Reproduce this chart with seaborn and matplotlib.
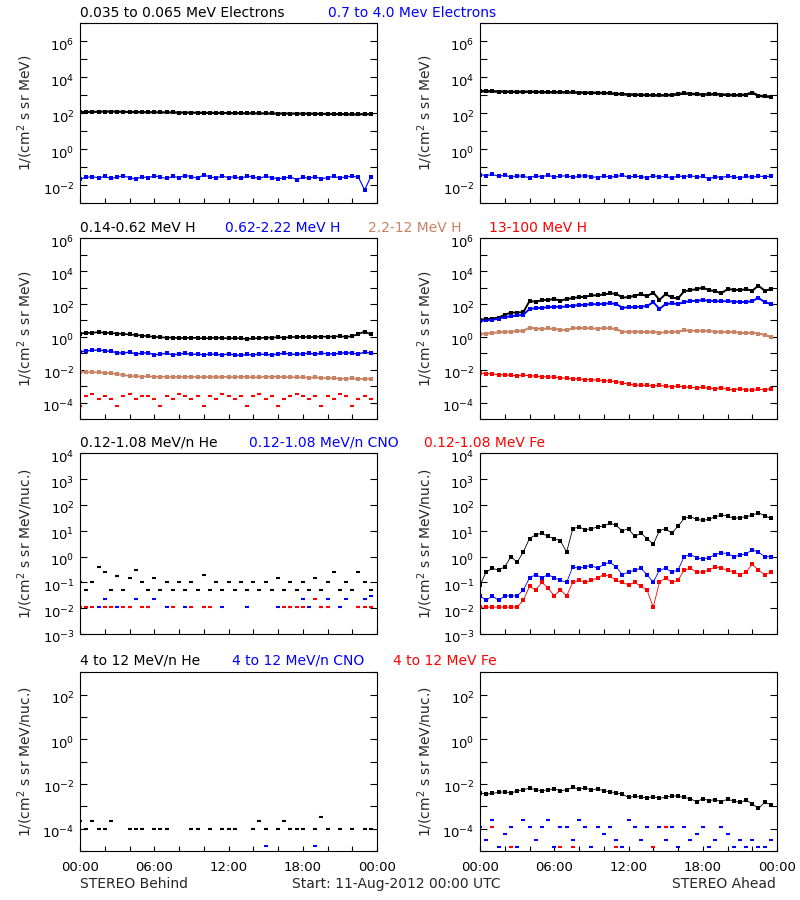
import numpy as np
import pandas as pd
import matplotlib
matplotlib.use("Agg")
import matplotlib.pyplot as plt
import matplotlib.transforms as mtransforms
import seaborn as sns
from matplotlib.ticker import FixedLocator, FixedFormatter, NullFormatter

nan = np.nan
hours = np.arange(48) * 0.5  # 30-min sampling, 00:00 .. 23:30

# ---------------- Row 1: electrons ----------------
e_lo_B = [115, 118, 120, 122, 124, 125, 122, 120, 118, 117, 116, 115, 114, 113, 112, 111,
          110, 109, 108, 107, 106, 105, 104, 104, 103, 102, 101, 100, 100, 99, 99, 98,
          97, 97, 96, 96, 95, 95, 94, 93, 92, 91, 90, 89, 87, 88, 89, 90]
e_hi_B = [0.022, 0.028, 0.030, 0.026, 0.031, 0.024, 0.029, 0.033, 0.027, 0.022, 0.030, 0.026,
          0.034, 0.028, 0.024, 0.031, 0.027, 0.035, 0.030, 0.025, 0.038, 0.029, 0.026, 0.032,
          0.027, 0.030, 0.024, 0.033, 0.028, 0.025, 0.031, 0.027, 0.023, 0.026, 0.029, 0.021,
          0.028, 0.025, 0.030, 0.023, 0.027, 0.031, 0.026, 0.029, 0.032, 0.028, 0.0055, 0.030]
e_lo_A = [1700, 1680, 1650, 1620, 1600, 1560, 1550, 1560, 1580, 1540, 1500, 1480, 1470, 1460,
          1450, 1440, 1420, 1400, 1380, 1360, 1340, 1300, 1200, 1150, 1100, 1080, 1050, 1030,
          1000, 990, 1000, 1050, 1150, 1300, 1200, 1150, 1100, 1120, 1150, 1100, 1050, 1020,
          1000, 1100, 1400, 950, 870, 830]
e_hi_A = [0.038, 0.035, 0.040, 0.032, 0.036, 0.029, 0.034, 0.031, 0.027, 0.033, 0.030, 0.036,
          0.029, 0.032, 0.034, 0.028, 0.031, 0.035, 0.030, 0.027, 0.033, 0.029, 0.031, 0.036,
          0.028, 0.032, 0.030, 0.027, 0.034, 0.029, 0.031, 0.026, 0.033, 0.030, 0.035, 0.028,
          0.031, 0.023, 0.030, 0.027, 0.032, 0.029, 0.026, 0.031, 0.028, 0.033, 0.030, 0.032]

# ---------------- Row 2: protons ----------------
h1_B = [1.6, 1.7, 1.8, 1.9, 1.8, 1.7, 1.6, 1.5, 1.4, 1.3, 1.2, 1.1, 1.0, 0.95, 0.9, 0.9,
        0.85, 0.85, 0.9, 0.85, 0.8, 0.85, 0.9, 0.85, 0.8, 0.85, 0.8, 0.75, 0.8, 0.85, 0.9, 0.9,
        0.95, 0.9, 0.95, 1.0, 1.0, 0.95, 1.0, 1.05, 1.0, 1.05, 1.1, 1.0, 1.1, 1.5, 2.1, 1.4]
h2_B = [0.12, 0.14, 0.15, 0.16, 0.14, 0.13, 0.11, 0.10, 0.12, 0.09, 0.10, 0.11, 0.08, 0.09,
        0.10, 0.08, 0.09, 0.10, 0.085, 0.09, 0.08, 0.09, 0.085, 0.08, 0.09, 0.08, 0.075, 0.085,
        0.08, 0.09, 0.085, 0.08, 0.09, 0.10, 0.09, 0.085, 0.095, 0.10, 0.09, 0.10, 0.095, 0.09,
        0.10, 0.11, 0.10, 0.09, 0.12, 0.10]
h3_B = [0.0075, 0.0072, 0.0070, 0.0068, 0.0065, 0.0060, 0.0055, 0.0048, 0.0042, 0.0040, 0.0038,
        0.0040, 0.0037, 0.0036, 0.0038, 0.0035, 0.0037, 0.0036, 0.0038, 0.0035, 0.0036, 0.0037,
        0.0035, 0.0036, 0.0037, 0.0035, 0.0038, 0.0036, 0.0034, 0.0035, 0.0037, 0.0036, 0.0038,
        0.0035, 0.0036, 0.0034, 0.0035, 0.0033, 0.0034, 0.0032, 0.0030, 0.0031, 0.0029, 0.0028,
        0.0030, 0.0027, 0.0028, 0.0029]
h4_B = [6e-5, 2.5e-4, 3.3e-4, 1.7e-4, 2.5e-4, 1.7e-4, 6e-5, 2.5e-4, 3.3e-4, 1.7e-4, 2.5e-4, 2.5e-4,
        1.7e-4, 6e-5, 2.5e-4, 1.7e-4, 3.3e-4, 2.5e-4, 1.7e-4, 2.5e-4, 6e-5, 2.5e-4, 1.7e-4, 3.3e-4,
        2.5e-4, 1.7e-4, 2.5e-4, 6e-5, 2.5e-4, 3.3e-4, 1.7e-4, 2.5e-4, 6e-5, 1.7e-4, 2.5e-4, 3.3e-4,
        2.5e-4, 1.7e-4, 2.5e-4, 6e-5, 2.5e-4, 1.7e-4, 3.3e-4, 2.5e-4, 6e-5, 1.7e-4, 2.5e-4, 1.7e-4]
h1_A = [11, 12, 13, 15, 22, 30, 30, 32, 150, 140, 170, 180, 200, 160, 200, 230, 260, 280, 330,
        340, 380, 440, 420, 250, 260, 320, 400, 300, 500, 180, 400, 250, 220, 600, 700, 800, 1000,
        700, 600, 450, 800, 750, 700, 800, 650, 1300, 650, 800]
h2_A = [9.5, 10, 11, 13, 16, 18, 20, 22, 50, 55, 60, 62, 70, 65, 72, 80, 85, 90, 100, 95, 105,
        110, 100, 60, 62, 65, 70, 75, 130, 50, 100, 110, 100, 130, 150, 160, 170, 160, 150, 145,
        150, 140, 135, 130, 150, 240, 130, 100]
h3_A = [1.5, 1.6, 1.7, 1.9, 2.0, 2.1, 2.2, 2.3, 3.7, 3.2, 3.0, 3.3, 3.0, 2.8, 2.5, 3.3, 3.5, 3.4,
        3.3, 3.2, 3.4, 3.3, 3.0, 2.1, 2.0, 2.1, 2.0, 1.9, 2.0, 1.8, 1.9, 2.0, 2.1, 2.5, 2.4, 2.3,
        2.4, 2.2, 2.1, 2.0, 1.9, 2.0, 1.8, 1.7, 1.8, 1.6, 1.3, 1.0]
h4_A = [6.3e-3, 5.8e-3, 5.5e-3, 5.0e-3, 4.8e-3, 4.5e-3, 4.3e-3, 4.6e-3, 4.4e-3, 4.0e-3, 3.8e-3,
        3.6e-3, 3.6e-3, 3.2e-3, 3.0e-3, 2.8e-3, 2.7e-3, 2.5e-3, 2.5e-3, 2.3e-3, 2.2e-3, 2.0e-3,
        1.9e-3, 1.6e-3, 1.3e-3, 1.2e-3, 1.1e-3, 1.15e-3, 1.05e-3, 1.1e-3, 1.0e-3, 0.95e-3, 1.0e-3,
        0.9e-3, 0.85e-3, 0.8e-3, 0.85e-3, 0.75e-3, 0.7e-3, 0.8e-3, 0.65e-3, 0.6e-3, 0.7e-3,
        0.6e-3, 0.55e-3, 0.65e-3, 0.6e-3, 0.7e-3]

# ---------------- Row 3: low-energy ions ----------------
he_B = [0.1, 0.05, 0.1, 0.4, 0.25, 0.05, 0.18, 0.05, 0.15, 0.3, 0.1, 0.05, 0.15, 0.05, 0.1, 0.05,
        0.1, 0.05, 0.1, 0.05, 0.2, 0.05, 0.1, 0.05, 0.1, 0.05, 0.1, 0.05, 0.1, 0.05, 0.1, 0.05,
        0.15, 0.05, 0.1, 0.05, 0.1, 0.05, 0.15, 0.05, 0.1, 0.25, 0.05, 0.1, 0.05, 0.25, 0.1, 0.05]
cno_B = [nan, 0.011, nan, 0.011, 0.022, nan, 0.011, nan, 0.011, 0.022, nan, 0.011, 0.022, nan,
         0.011, nan, nan, 0.011, nan, nan, 0.011, nan, nan, 0.011, nan, nan, nan, 0.011, nan, nan,
         nan, nan, 0.011, nan, 0.011, nan, 0.022, 0.011, nan, 0.011, 0.022, nan, 0.011, 0.022, nan,
         0.011, 0.022, 0.03]
fe_B = [0.011, 0.011, 0.011, nan, 0.011, 0.011, nan, 0.011, 0.011, nan, 0.011, 0.011, nan, nan,
        nan, 0.011, nan, nan, 0.011, nan, 0.011, 0.011, nan, nan, nan, nan, nan, nan, nan, nan,
        nan, nan, nan, 0.011, 0.011, 0.011, 0.011, nan, 0.022, 0.011, 0.011, nan, nan, nan, nan,
        0.011, 0.011, 0.011]
he_A = [0.08, 0.25, 0.35, 0.3, 0.4, 1.0, 0.6, 1.5, 5, 7, 8, 6, 5, 4, 1.5, 12, 14, 11, 12, 14, 15,
        20, 16, 10, 12, 6, 8, 5, 3, 10, 12, 8, 15, 30, 35, 28, 25, 28, 35, 40, 38, 30, 32, 35, 40,
        50, 38, 30]
cno_A = [0.03, 0.02, 0.03, 0.02, 0.03, 0.03, 0.03, 0.05, 0.15, 0.2, 0.15, 0.2, 0.15, 0.12, 0.1,
         0.4, 0.35, 0.4, 0.45, 0.35, 0.5, 0.6, 0.4, 0.2, 0.25, 0.3, 0.35, 0.2, 0.1, 0.3, 0.35, 0.25,
         0.3, 1.0, 1.2, 0.9, 0.8, 0.9, 1.2, 1.4, 1.3, 1.0, 1.1, 1.3, 1.8, 1.5, 1.0, 1.0]
fe_A = [0.011, 0.011, 0.011, 0.011, 0.011, 0.011, 0.011, 0.02, 0.07, 0.05, 0.1, 0.06, 0.03, 0.05,
        0.03, 0.1, 0.12, 0.1, 0.12, 0.15, 0.2, 0.17, 0.12, 0.1, 0.08, 0.1, 0.07, 0.05, 0.011, 0.1,
        0.15, 0.1, 0.12, 0.3, 0.35, 0.25, 0.25, 0.3, 0.4, 0.35, 0.3, 0.25, 0.2, 0.25, 0.5, 0.3,
        0.2, 0.25]

# ---------------- Row 4: high-energy ions ----------------
he4_B = [2.2e-4, 1e-4, 2.2e-4, 1e-4, 1e-4, 2.2e-4, nan, nan, 1e-4, 1e-4, 1e-4, nan, 1e-4, 1e-4,
         1e-4, nan, nan, nan, 1e-4, 1e-4, nan, 1e-4, nan, 1e-4, 1e-4, 1e-4, nan, nan, 1e-4, 2.2e-4,
         1e-4, nan, 1e-4, 2.2e-4, 1e-4, 1e-4, 1e-4, nan, 1e-4, 3.5e-4, 1e-4, nan, 1e-4, nan, 1e-4,
         nan, 1e-4, 1e-4]
cno4_B = [nan] * 30 + [1.6e-5] + [nan] * 7 + [1.6e-5] + [nan] * 9
he4_A = [4e-3, 3.5e-3, 3.8e-3, 4.2e-3, 4.5e-3, 4.0e-3, 4.8e-3, 5.5e-3, 6.5e-3, 5.5e-3, 5e-3,
         5.5e-3, 6e-3, 5e-3, 5.5e-3, 7e-3, 6e-3, 6.5e-3, 5.5e-3, 6e-3, 5e-3, 4.5e-3, 4e-3, 3.5e-3,
         2.5e-3, 2.8e-3, 2.6e-3, 2.4e-3, 2.7e-3, 2.3e-3, 2.5e-3, 3e-3, 2.8e-3, 2.5e-3, 2.2e-3,
         1.6e-3, 2.2e-3, 1.8e-3, 2e-3, 1.6e-3, 2.1e-3, 1.7e-3, 1.5e-3, 1.9e-3, 1.3e-3, 0.8e-3,
         1.5e-3, 1.2e-3]
cno4_A = [1.2e-4, 3e-5, 2.4e-4, 1.5e-5, 5.5e-5, 1.2e-4, 1.5e-5, 2.4e-4, 1.2e-4, 3e-5, 1.2e-4,
          2.4e-4, 1.5e-5, 1.2e-4, 1.2e-4, 3e-5, 2.4e-4, 1.2e-4, 1.5e-5, 1.2e-4, 5.5e-5, 1.2e-4,
          3e-5, 1.5e-5, 2.4e-4, 1.2e-4, 3e-5, 1.2e-4, 1.5e-5, 1.2e-4, 3e-5, 1.2e-4, 1.5e-5, 1.2e-4,
          3e-5, 5.5e-5, 1.2e-4, 1.5e-5, 3e-5, 1.2e-4, 5.5e-5, 1.5e-5, 3e-5, 1.5e-5, 3e-5, 1.5e-5,
          1.5e-5, 3e-5]
fe4_A = [nan, nan, 1.2e-4, nan, nan, 1.5e-5, nan, nan, nan, nan, nan, nan, nan, 1.5e-5, nan,
         1.5e-5, nan, nan, nan, nan, nan, nan, 1.5e-5, nan, nan, nan, nan, nan, 1.5e-5, nan, 1.2e-4,
         nan, nan, nan, nan, nan, nan, nan, nan, nan, nan, nan, nan, nan, nan, nan, nan, nan]

row_titles = [
    ["0.035 to 0.065 MeV Electrons", "0.7 to 4.0 Mev Electrons"],
    ["0.14-0.62 MeV H", "0.62-2.22 MeV H", "2.2-12 MeV H", "13-100 MeV H"],
    ["0.12-1.08 MeV/n He", "0.12-1.08 MeV/n CNO", "0.12-1.08 MeV Fe"],
    ["4 to 12 MeV/n He", "4 to 12 MeV/n CNO", "4 to 12 MeV Fe"],
]
x_tick_labels = ["00:00", "06:00", "12:00", "18:00", "00:00"]

# ---------------- styling ----------------
BLK, BLU, SIE, RED = "#000000", "#0000ff", "#c88264", "#ff0000"
title_colors = [[BLK, BLU], [BLK, BLU, SIE, RED], [BLK, BLU, RED], [BLK, BLU, RED]]
title_x = [[80, 328], [80, 225, 368, 489], [80, 249, 424], [80, 232, 393]]
title_y = [13, 228, 443, 661]

sns.set_theme(style="ticks")
plt.rcParams["font.family"] = ["DejaVu Sans"]
plt.rcParams["mathtext.fontset"] = "custom"
plt.rcParams["mathtext.rm"] = "Liberation Sans Narrow"
plt.rcParams["mathtext.default"] = "rm"

FS = 10
TICK_FONT = dict(family="Liberation Sans Narrow", size=9.5)
fig = plt.figure(figsize=(8, 9), dpi=100)
fig.patch.set_facecolor("white")

row_tops = [23.3, 238.3, 453.3, 672.3]
row_bots = [203.3, 419.0, 634.0, 851.0]
col_left = [80, 480]
W = 297
ylims = [(1e-3, 1e7), (1e-5, 1e6), (1e-3, 1e4), (1e-5, 1e3)]
label_exps = [[-2, 0, 2, 4, 6], [-4, -2, 0, 2, 4, 6], [-3, -2, -1, 0, 1, 2, 3, 4], [-4, -2, 0, 2]]
all_exps = [range(-3, 8), range(-5, 7), range(-3, 5), range(-5, 4)]
ylabels = [r"1/(cm$^2$ s sr MeV)", r"1/(cm$^2$ s sr MeV)",
           r"1/(cm$^2$ s sr MeV/nuc.)", r"1/(cm$^2$ s sr MeV/nuc.)"]

# (data, color, linewidth, marker) per panel; lw 0 -> points only
panels = {
    (0, 0): [(e_lo_B, BLK, 1.6, "s"), (e_hi_B, BLU, 0.8, "s")],
    (0, 1): [(e_lo_A, BLK, 1.8, "s"), (e_hi_A, BLU, 0.8, "s")],
    (1, 0): [(h1_B, BLK, 1.2, "s"), (h2_B, BLU, 1.0, "s"), (h3_B, SIE, 1.2, "s"),
             (h4_B, RED, 0, "_")],
    (1, 1): [(h1_A, BLK, 1.4, "s"), (h2_A, BLU, 1.4, "s"), (h3_A, SIE, 1.4, "s"),
             (h4_A, RED, 0.8, "s")],
    (2, 0): [(he_B, BLK, 0, "_"), (cno_B, BLU, 0, "_"), (fe_B, RED, 0, "_")],
    (2, 1): [(he_A, BLK, 0.6, "s"), (cno_A, BLU, 0.6, "s"), (fe_A, RED, 0.6, "s")],
    (3, 0): [(he4_B, BLK, 0, "_"), (cno4_B, BLU, 0, "_")],
    (3, 1): [(he4_A, BLK, 0.6, "s"), (cno4_A, BLU, 0, "_"), (fe4_A, RED, 0, "_")],
}

down = mtransforms.ScaledTranslation(0, -3 / 100, fig.dpi_scale_trans)

for r in range(4):
    for c in range(2):
        y0 = 1 - row_bots[r] / 900
        h = (row_bots[r] - row_tops[r]) / 900
        ax = fig.add_axes([col_left[c] / 800, y0, W / 800, h])
        ax.set_yscale("log")
        for data, color, lw, mk in panels[(r, c)]:
            df = pd.DataFrame({"hour": hours, "flux": data}).dropna()
            if lw > 0:
                sns.lineplot(data=df, x="hour", y="flux", color=color, linewidth=lw,
                             estimator=None, sort=False, ax=ax)
            if mk == "s":
                sns.scatterplot(data=df, x="hour", y="flux", color=color, s=5, marker="s",
                                linewidth=0, ax=ax)
            else:
                sns.scatterplot(data=df, x="hour", y="flux", color=color, edgecolor=color,
                                s=11, marker="_", linewidth=1.5, ax=ax)
        ax.set_xlim(0, 24)
        ax.set_ylim(*ylims[r])
        ax.set_xlabel("")
        ax.set_ylabel(ylabels[r], fontsize=FS)
        ax.yaxis.set_label_coords(-0.152, 0.5)
        # y ticks
        le = label_exps[r]
        ax.yaxis.set_major_locator(FixedLocator([10.0 ** e for e in le]))
        ax.yaxis.set_major_formatter(FixedFormatter([r"$10^{%d}$" % e for e in le]))
        ax.yaxis.set_minor_locator(FixedLocator([10.0 ** e for e in all_exps[r] if e not in le]))
        ax.yaxis.set_minor_formatter(NullFormatter())
        # x ticks
        ax.xaxis.set_major_locator(FixedLocator([0, 6, 12, 18, 24]))
        ax.xaxis.set_minor_locator(FixedLocator([2, 4, 8, 10, 14, 16, 20, 22]))
        if r == 3:
            ax.xaxis.set_major_formatter(FixedFormatter(x_tick_labels))
        else:
            ax.xaxis.set_major_formatter(NullFormatter())
        ax.xaxis.set_minor_formatter(NullFormatter())
        ax.tick_params(axis="y", which="both", direction="in", left=True, right=True,
                       length=5, width=0.8, pad=4, colors="black")
        ax.tick_params(axis="x", which="both", direction="in", bottom=True, top=False,
                       length=3.6, width=0.8, pad=7, colors="black")
        for lab in ax.get_yticklabels():
            lab.set_fontproperties(TICK_FONT)
            lab.set_transform(lab.get_transform() + down)
        for lab in ax.get_xticklabels():
            lab.set_fontproperties(TICK_FONT)
        for sp in ax.spines.values():
            sp.set_visible(True)
            sp.set_linewidth(0.8)
            sp.set_color("black")
        ax.set_facecolor("white")
        if ax.get_legend() is not None:
            ax.get_legend().remove()

# row titles
for r in range(4):
    for txt, col, x in zip(row_titles[r], title_colors[r], title_x[r]):
        fig.text(x / 800, 1 - title_y[r] / 900, txt, color=col, fontsize=FS,
                 ha="left", va="center")

# footer
fig.text(80 / 800, 1 - 884 / 900, "STEREO Behind", fontsize=FS, ha="left", va="center")
fig.text(292 / 800, 1 - 884 / 900, "Start: 11-Aug-2012 00:00 UTC", fontsize=FS,
         ha="left", va="center")
fig.text(776 / 800, 1 - 884 / 900, "STEREO Ahead", fontsize=FS, ha="right", va="center")

fig.savefig("out.png", dpi=100, facecolor="white")
